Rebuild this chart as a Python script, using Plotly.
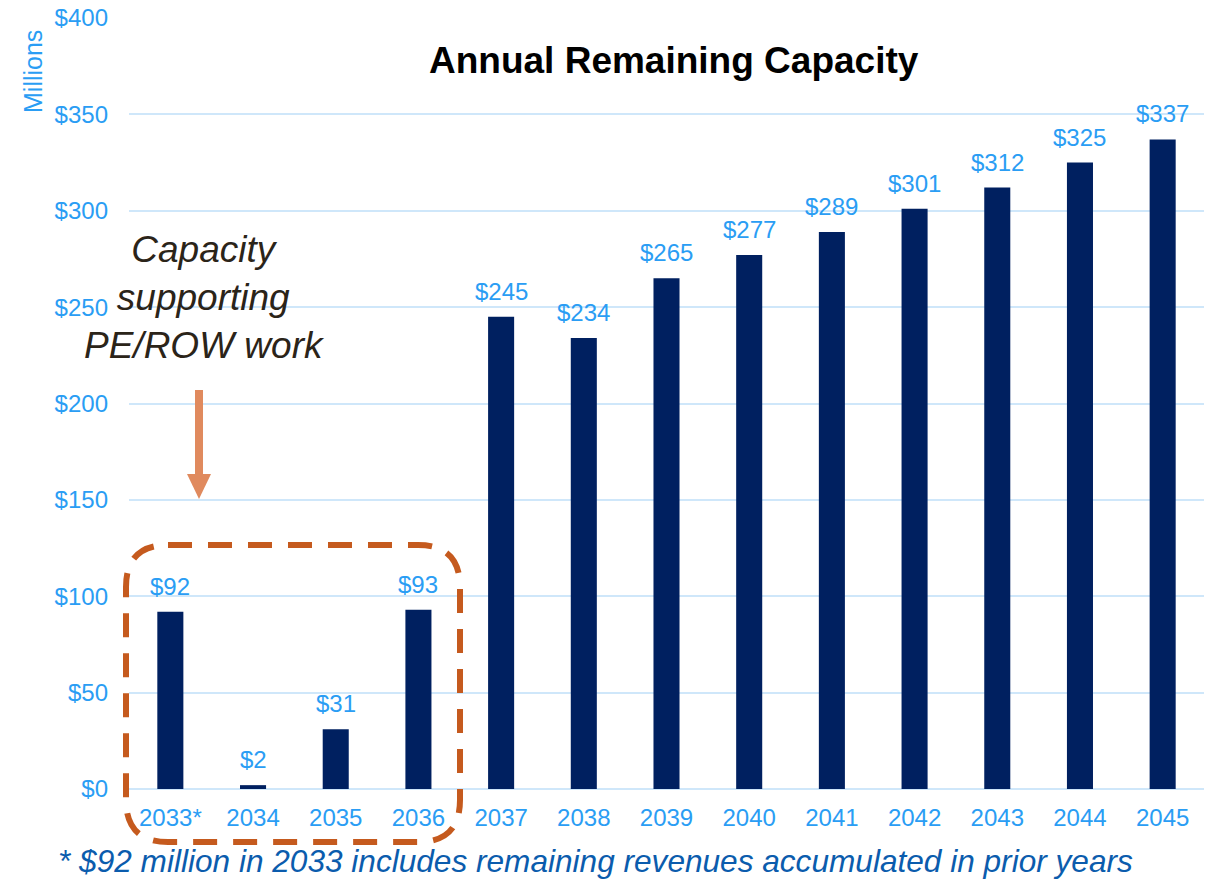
import plotly.graph_objects as go

years = ["2033*", "2034", "2035", "2036", "2037", "2038", "2039", "2040",
         "2041", "2042", "2043", "2044", "2045"]
capacity = [92, 2, 31, 93, 245, 234, 265, 277, 289, 301, 312, 325, 337]
y_ticks = [0, 50, 100, 150, 200, 250, 300, 350, 400]
y_tick_labels = ["$" + str(v) for v in y_ticks]

BAR = "#002060"
BLUE = "#2A9DF4"
GRID = "#CFE7FA"
FONT = "Liberation Sans, Arial, sans-serif"

W, H = 1206, 880
ML, MR, MT, MB = 129, 2, 18, 91
PW = W - ML - MR
PH = H - MT - MB


def px(x):
    return (x - ML) / PW


def py(y):
    return (H - MB - y) / PH


fig = go.Figure()
fig.add_trace(go.Bar(
    x=years, y=capacity, marker=dict(color=BAR, line=dict(width=0)),
    width=0.315, hoverinfo="x+y",
))

annotations = []
for i, v in enumerate(capacity):
    annotations.append(dict(
        x=i, y=v, xref="x", yref="y", text="$" + str(v), showarrow=False,
        yanchor="bottom", yshift=10, font=dict(family=FONT, size=24, color=BLUE),
    ))

annotations += [
    dict(x=px(674), y=py(60), xref="paper", yref="paper",
         text="<b>Annual Remaining Capacity</b>", showarrow=False,
         xanchor="center", yanchor="middle",
         font=dict(family=FONT, size=37, color="#000000")),
    dict(x=px(33), y=py(72), xref="paper", yref="paper", text="Millions",
         textangle=-90, showarrow=False, xanchor="center", yanchor="middle",
         font=dict(family=FONT, size=25, color=BLUE)),
    dict(x=px(204), y=py(297), xref="paper", yref="paper",
         text="<i>Capacity<br>supporting<br>PE/ROW work</i>", showarrow=False,
         xanchor="center", yanchor="middle", align="center",
         font=dict(family=FONT, size=37, color="#2B2419")),
    dict(x=px(56), y=py(861), xref="paper", yref="paper",
         text="<i>* $92 million in 2033 includes remaining revenues accumulated in prior years</i>",
         showarrow=False, xanchor="left", yanchor="middle",
         font=dict(family=FONT, size=31.6, color="#0B5CAD")),
]

# dashed rounded box
L, R, T, B = px(126), px(460), py(545), py(842)
rx, ry = 42 / PW, 42 / PH
box_path = (f"M {L+rx},{T} L {R-rx},{T} Q {R},{T} {R},{T-ry} "
            f"L {R},{B+ry} Q {R},{B} {R-rx},{B} L {L+rx},{B} "
            f"Q {L},{B} {L},{B+ry} L {L},{T-ry} Q {L},{T} {L+rx},{T} Z")

ax_x = px(199)
shapes = [
    dict(type="path", path=box_path, xref="paper", yref="paper",
         line=dict(color="#C55A1E", width=6, dash="24px,16px"), layer="above"),
    dict(type="line", x0=ax_x, x1=ax_x, y0=py(390), y1=py(476), xref="paper", yref="paper",
         line=dict(color="#E08A5E", width=8)),
    dict(type="path", xref="paper", yref="paper",
         path=f"M {ax_x-12/PW},{py(474)} L {ax_x+12/PW},{py(474)} L {ax_x},{py(499)} Z",
         fillcolor="#E08A5E", line=dict(width=0)),
]

fig.update_layout(
    width=W, height=H,
    margin=dict(l=ML, r=MR, t=MT, b=MB),
    plot_bgcolor="white", paper_bgcolor="white",
    showlegend=False,
    annotations=annotations, shapes=shapes,
    font=dict(family=FONT, color=BLUE),
    xaxis=dict(type="category", range=[-0.5, len(years) - 0.5],
               showgrid=False, showline=False, zeroline=False,
               tickfont=dict(family=FONT, size=24, color=BLUE), ticks="",
               ticklabelstandoff=12),
    yaxis=dict(range=[0, 400], tickvals=y_ticks, ticktext=y_tick_labels,
               showgrid=True, gridcolor=GRID, gridwidth=2,
               zeroline=True, zerolinecolor=GRID, zerolinewidth=2,
               showline=False, ticks="",
               tickfont=dict(family=FONT, size=24, color=BLUE),
               ticklabelstandoff=20),
    bargap=0.685,
)

fig.write_html("out.html", config={"displayModeBar": False},
               post_script="document.body.style.margin='0';document.body.style.overflow='hidden';")
